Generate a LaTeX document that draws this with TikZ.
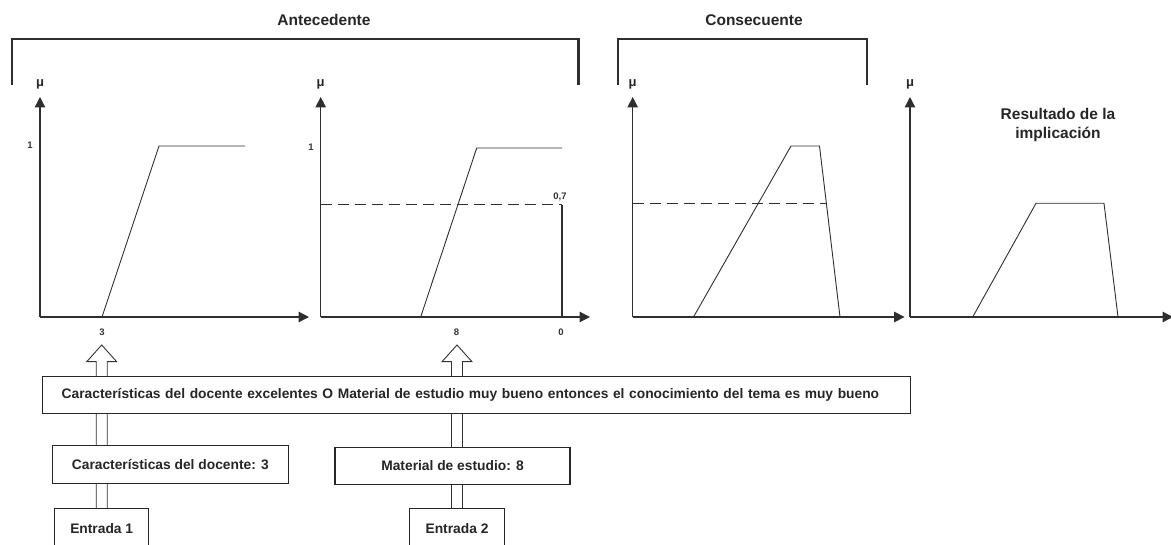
\documentclass[tikz,border=0pt]{standalone}
\usepackage{fontspec}
\setmainfont{Liberation Sans}
\usetikzlibrary{arrows.meta,calc}

\begin{document}
\begin{tikzpicture}[x=1pt,y=-1pt,
  ink/.style={black!82},
  axis/.style={ink,line width=1.3pt,-{Triangle[length=10.5pt,width=10.5pt]}},
  curve/.style={ink,line width=0.9pt,line join=miter},
  cutline/.style={ink,line width=1pt,dash pattern=on 11pt off 6pt},
  bracket/.style={ink,line width=2.2pt,line join=miter},
  title/.style={font=\bfseries\fontsize{15.5}{19}\selectfont,text=black!85,align=center},
  mu/.style={font=\bfseries\fontsize{13}{14}\selectfont,text=black!85,inner sep=0pt},
  tick/.style={font=\bfseries\fontsize{9.5}{10}\selectfont,text=black!80,inner sep=0pt},
  box/.style={draw=black!85,line width=1.1pt,fill=white,inner sep=0pt,
    font=\bfseries\fontsize{13.8}{16}\selectfont,text=black!85},
  hollow/.style={draw=black!80,line width=0.9pt,fill=white,line join=miter}
]
\useasboundingbox (0,0) rectangle (1171,545);

% --- titles and brackets ---
\node[title] (ant) at (324,20) {Antecedente};
\node[title] (con) at (754,20) {Consecuente};
\draw[bracket] (12,85) -- (12,39) -- (578.5,39) -- (578.5,85);
\draw[bracket] (618.3,85) -- (618.3,39) -- (867,39) -- (867,85);

% --- plot 1: antecedent input 1 ---
\coordinate (o1) at (40,317);
\draw[axis] (o1) -- (40,97);
\draw[axis] (o1) -- (309,317);
\node[mu] (mu1) at (40,84) {μ};
\node[tick] (one1) at (30,145) {1};
\node[tick] (three) at (102,332) {3};
\draw[curve] (102,317) -- (159,146) -- (245,146);

% --- plot 2: antecedent input 2 ---
\coordinate (o2) at (320.7,317);
\draw[cutline] (320.7,205) -- (562,205);
\draw[ink,line width=2pt] (562,205) -- (562,317);
\draw[axis] (o2) -- (320.7,97);
\draw[axis] (o2) -- (590,317);
\node[mu] (mu2) at (320.7,84) {μ};
\node[tick] (one2) at (311,147) {1};
\node[tick] (seven) at (560,197) {0,7};
\node[tick] (eight) at (456.5,332) {8};
\node[tick] (zero) at (561,332) {0};
\draw[curve] (420.7,317) -- (476.7,148) -- (562,148);

% --- plot 3: consequent ---
\coordinate (o3) at (632.7,317);
\draw[cutline] (632.7,203.5) -- (826,203.5);
\draw[axis] (o3) -- (632.7,97);
\draw[axis] (o3) -- (904.6,317);
\node[mu] (mu3) at (632.7,84) {μ};
\draw[curve] (693.5,317) -- (791,146) -- (819.5,146) -- (840,317);

% --- plot 4: implication result ---
\coordinate (o4) at (910,317);
\draw[axis] (o4) -- (910,97);
\draw[axis] (o4) -- (1173,317);
\node[mu] (mu4) at (910,84) {μ};
\node[title] (res) at (1058,124.5) {Resultado de la\\implicación};
\draw[curve] (972.7,317) -- (1036,203.3) -- (1104,203.3) -- (1118,317);

% --- input arrows ---
\coordinate (t1) at (101.7,345);
\coordinate (t2) at (457,345);
\node[box,minimum width=94.3pt,minimum height=40pt] (e1) at (101.7,528.3) {Entrada 1};
\node[box,minimum width=94.3pt,minimum height=40pt] (e2) at (457,528.3) {Entrada 2};
\foreach \src/\tip in {e1/t1,e2/t2}{
  \draw[hollow] let \p1=(\src.north), \p2=(\tip) in
    (\x1-5.5pt,\y1) -- (\x1-5.5pt,\y2-16.7pt) -- (\x1-15pt,\y2-16.7pt) -- (\x2,\y2)
    -- (\x1+15pt,\y2-16.7pt) -- (\x1+5.5pt,\y2-16.7pt) -- (\x1+5.5pt,\y1);
}
\node[box,minimum width=236pt,minimum height=37.3pt] (c1) at (170.3,464.6) {Características del docente: 3};
\node[box,minimum width=235pt,minimum height=37pt] (c2) at (452.5,465.8) {Material de estudio: 8};
\node[box,minimum height=36.6pt,inner xsep=19.4pt,text width=829.6pt,align=left] (rule) at (476.5,395) {Características del docente excelentes O Material de estudio muy bueno entonces el conocimiento del tema es muy bueno};
\end{tikzpicture}
\end{document}
